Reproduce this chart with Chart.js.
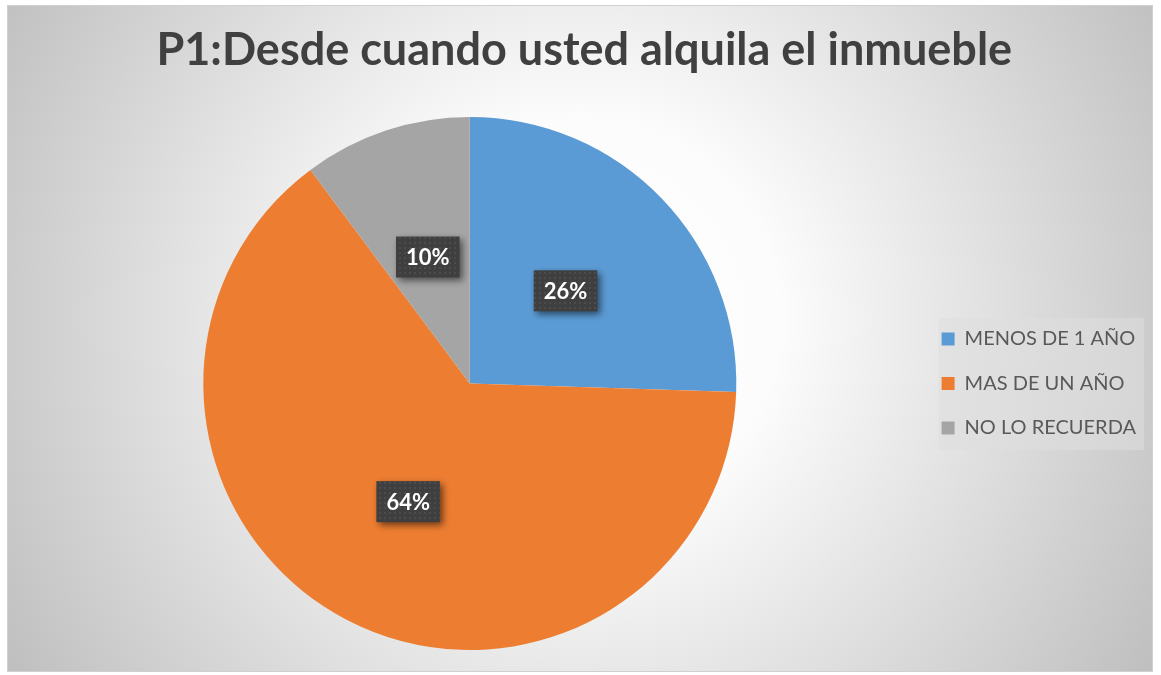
<!DOCTYPE html>
<html>
<head>
<meta charset="utf-8">
<script src="https://cdn.jsdelivr.net/npm/chart.js@4.4.1/dist/chart.umd.min.js"></script>
<style>
  html, body { margin: 0; padding: 0; background: #fff; }
  #wrap { position: absolute; left: 7px; top: 5px; width: 1146px; height: 667px; }
</style>
</head>
<body>
<div id="wrap"><canvas id="pieChart"></canvas></div>
<script>
const titleText = 'P1:Desde cuando usted alquila el inmueble';
const categories = ['MENOS DE 1 AÑO', 'MAS DE UN AÑO', 'NO LO RECUERDA'];
const counts = [25, 63, 10];
const sliceColors = ['#5B9BD5', '#ED7D31', '#A5A5A5'];

const total = counts.reduce((a, b) => a + b, 0);

// dotted fill used by the dark label boxes
function dotPattern(ctx) {
  const c = document.createElement('canvas');
  c.width = 5; c.height = 5;
  const p = c.getContext('2d');
  p.fillStyle = '#3f3f3f';
  p.fillRect(0, 0, 5, 5);
  p.fillStyle = '#4c4c4c';
  p.fillRect(2, 2, 2, 2);
  return ctx.createPattern(c, 'repeat');
}

const backgroundPlugin = {
  id: 'background',
  beforeDraw(chart) {
    const { ctx, width, height } = chart;
    const cx = width * 0.5, cy = height * 0.47;
    const g = ctx.createRadialGradient(cx, cy, 0, cx, cy, Math.hypot(width, height) / 2);
    g.addColorStop(0, '#ffffff');
    g.addColorStop(0.3, '#fcfcfc');
    g.addColorStop(1, '#c0c0c0');
    ctx.save();
    ctx.fillStyle = g;
    ctx.fillRect(0, 0, width, height);
    ctx.strokeStyle = '#d0d0d0';
    ctx.lineWidth = 1;
    ctx.strokeRect(0.5, 0.5, width - 1, height - 1);

    // legend backing box
    const boxes = chart.legend && chart.legend.legendHitBoxes;
    if (boxes && boxes.length) {
      const first = boxes[0], last = boxes[boxes.length - 1];
      const left = Math.min(...boxes.map(b => b.left)) - 3;
      const right = Math.max(...boxes.map(b => b.left + b.width)) + 8;
      const top = first.top + first.height / 2 - 21;
      const bottom = last.top + last.height / 2 + 22;
      ctx.fillStyle = 'rgba(222, 222, 222, 0.55)';
      ctx.fillRect(left, top, right - left, bottom - top);
    }
    ctx.restore();
  }
};

const labelPlugin = {
  id: 'pctLabels',
  afterDatasetsDraw(chart) {
    const { ctx } = chart;
    const meta = chart.getDatasetMeta(0);
    const fill = dotPattern(ctx);
    meta.data.forEach((arc, i) => {
      const { x, y } = arc.tooltipPosition();
      const txt = Math.round(counts[i] / total * 100) + '%';
      ctx.save();
      ctx.font = 'bold 22px Lato';
      const w = ctx.measureText(txt).width + 20;
      const h = 41;
      ctx.shadowColor = 'rgba(0,0,0,0.55)';
      ctx.shadowBlur = 7;
      ctx.shadowOffsetX = 3;
      ctx.shadowOffsetY = 3;
      ctx.fillStyle = fill;
      ctx.fillRect(x - w / 2, y - h / 2, w, h);
      ctx.shadowColor = 'transparent';
      ctx.fillStyle = '#ffffff';
      ctx.textAlign = 'center';
      ctx.textBaseline = 'middle';
      ctx.fillText(txt, x, y + 1);
      ctx.restore();
    });
  }
};

const ctx = document.getElementById('pieChart').getContext('2d');
new Chart(ctx, {
  type: 'pie',
  data: {
    labels: categories,
    datasets: [{
      data: counts,
      backgroundColor: sliceColors,
      borderWidth: 0
    }]
  },
  options: {
    responsive: true,
    maintainAspectRatio: false,
    animation: false,
    layout: { padding: { left: 15.5, right: 7, top: 0, bottom: 22 } },
    plugins: {
      title: {
        display: true,
        text: titleText,
        color: '#404040',
        font: { family: 'Lato', size: 45, weight: 'bold' },
        padding: { top: 18, bottom: 40 }
      },
      legend: {
        position: 'right',
        fullSize: false,
        labels: {
          color: '#595959',
          font: { family: 'Lato', size: 20 },
          boxWidth: 13,
          boxHeight: 13,
          padding: 24.5
        }
      },
      tooltip: { enabled: false }
    }
  },
  plugins: [backgroundPlugin, labelPlugin]
});
</script>
</body>
</html>
